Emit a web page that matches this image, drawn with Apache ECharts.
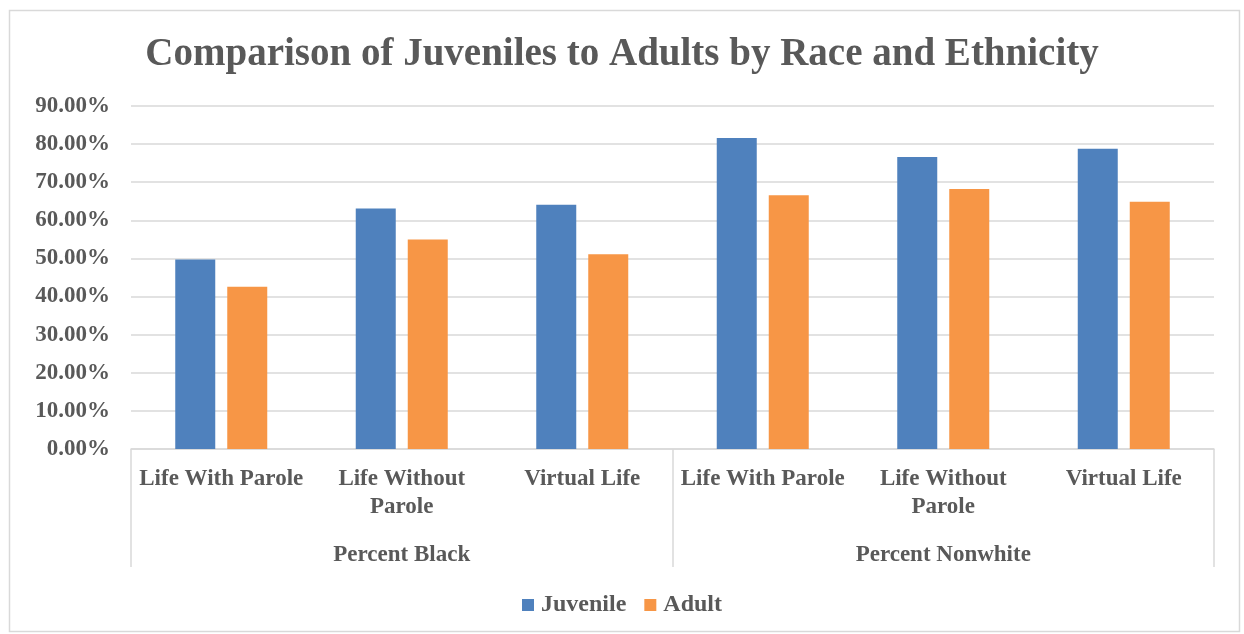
<!DOCTYPE html>
<html>
<head>
<meta charset="utf-8">
<script src="https://cdn.jsdelivr.net/npm/echarts@6/dist/echarts.min.js"></script>
<style>html,body{margin:0;padding:0;background:#fff;}#c{width:1244px;height:634px;}</style>
</head>
<body>
<div id="c"></div>
<script>
const titleText = 'Comparison of Juveniles to Adults by Race and Ethnicity';
const categories = ['Life With Parole', 'Life Without Parole', 'Virtual Life', 'Life With Parole', 'Life Without Parole', 'Virtual Life'];
const groups = ['Percent Black', 'Percent Nonwhite'];
const seriesNames = ['Juvenile', 'Adult'];
const juvenile = [49.7, 63.1, 64.1, 81.6, 76.6, 78.8];
const adult = [42.6, 55.0, 51.1, 66.6, 68.2, 64.9];
const yTicks = [0, 10, 20, 30, 40, 50, 60, 70, 80, 90];

const FONT = '"Liberation Serif", "DejaVu Serif", serif';
const TXT = '#595959';
const chart = echarts.init(document.getElementById('c'), null, {renderer: 'canvas'});
chart.setOption({
  backgroundColor: '#fff',
  animation: false,
  color: ['#4F81BD', '#F79646'],
  graphic: [{
    type: 'rect', left: 7, top: 8, shape: {width: 1230, height: 621},
    style: {fill: 'none', stroke: '#D9D9D9', lineWidth: 1.5}, silent: true
  }],
  title: {
    text: titleText, left: 'center', top: 30,
    textStyle: {fontFamily: FONT, fontWeight: 'bold', fontSize: 39, color: TXT}
  },
  legend: {
    data: seriesNames, bottom: 12, left: 'center',
    itemWidth: 12, itemHeight: 12, itemGap: 18, icon: 'rect',
    textStyle: {fontFamily: FONT, fontWeight: 'bold', fontSize: 24, color: TXT, padding: [0, 0, 0, 2]}
  },
  grid: {left: 131, right: 30, top: 106, bottom: 185, containLabel: false},
  xAxis: [{
    type: 'category', data: categories, position: 'bottom',
    axisLine: {show: true, lineStyle: {color: '#D9D9D9', width: 1.5}},
    axisTick: {show: false},
    axisLabel: {
      interval: 0, margin: 16, color: TXT, fontFamily: FONT, fontWeight: 'bold', fontSize: 23,
      lineHeight: 28, verticalAlign: 'top',
      formatter: v => v.replace('Without ', 'Without\n')
    }
  }, {
    type: 'category', data: groups, position: 'bottom',
    axisLine: {show: false},
    axisTick: {show: true, length: 118, lineStyle: {color: '#D9D9D9', width: 1.5}},
    axisLabel: {interval: 0, margin: 95, color: TXT, fontFamily: FONT, fontWeight: 'bold', fontSize: 23, verticalAlign: 'top'}
  }],
  yAxis: {
    type: 'value', min: 0, max: 90, interval: 10,
    axisLine: {show: false}, axisTick: {show: false},
    splitLine: {lineStyle: {color: '#D9D9D9', width: 1.5}},
    axisLabel: {
      margin: 21, color: TXT, fontFamily: FONT, fontWeight: 'bold', fontSize: 23,
      formatter: v => yTicks.includes(v) ? v.toFixed(2) + '%' : ''
    }
  },
  series: [{
    name: seriesNames[0], type: 'bar', data: juvenile, barWidth: 40, barGap: '30%', xAxisIndex: 0
  }, {
    name: seriesNames[1], type: 'bar', data: adult, barWidth: 40, barGap: '30%', xAxisIndex: 0
  }]
});
</script>
</body>
</html>
